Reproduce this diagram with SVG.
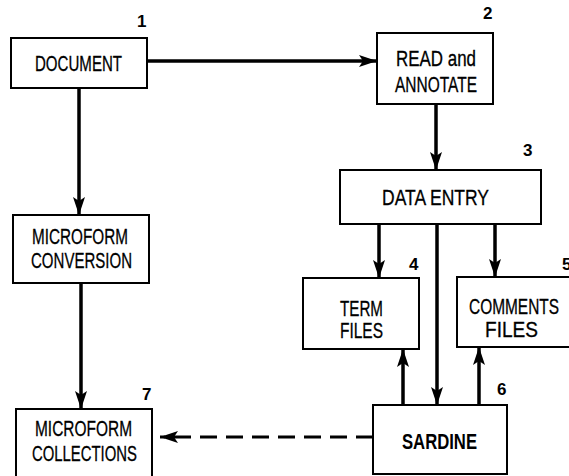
<svg xmlns="http://www.w3.org/2000/svg" width="569" height="476" viewBox="0 0 569 476">
<defs>
<marker id="ah" markerUnits="userSpaceOnUse" markerWidth="20" markerHeight="14" refX="18" refY="6" orient="auto">
<path d="M0,0 L18,6 L0,12 L4,6 z" fill="#000"/>
</marker>
<style>
.box{fill:#fff;stroke:#000;stroke-width:2}
.t{font-family:"Liberation Sans",Arial,sans-serif;font-size:21.5px;fill:#000;stroke:#000;stroke-width:0.3}
.b{font-family:"Liberation Sans",Arial,sans-serif;font-size:22px;font-weight:bold;fill:#000}
.n{font-family:"Liberation Sans",Arial,sans-serif;font-size:17px;font-weight:bold;fill:#000}
.c{fill:none;stroke:#000;stroke-width:3.5;marker-end:url(#ah)}
.d{fill:none;stroke:#000;stroke-width:3;stroke-dasharray:17 9;marker-end:url(#ah)}
</style>
</defs>
<rect width="569" height="476" fill="#fff"/>
<g id="connectors">
<path class="c" d="M147,61 H377"/>
<path class="c" d="M79,88 V215"/>
<path class="c" d="M81,283 V409"/>
<path class="c" d="M436,104 V170"/>
<path class="c" d="M379,224 V278"/>
<path class="c" d="M495,224 V277"/>
<path class="c" d="M437,224 V405"/>
<path class="c" d="M403,405 V349"/>
<path class="c" d="M479,405 V347"/>
<path class="d" d="M373,437 H160"/>
</g>
<g id="n1">
<rect class="box" x="11" y="38" width="136" height="50"/>
<text class="t" x="35" y="71" textLength="87" lengthAdjust="spacingAndGlyphs">DOCUMENT</text>
<text class="n" x="137" y="27">1</text>
</g>
<g id="n2">
<rect class="box" x="377" y="33" width="116" height="71"/>
<text class="t" x="396" y="66" textLength="80" lengthAdjust="spacingAndGlyphs">READ and</text>
<text class="t" x="395" y="92" textLength="82" lengthAdjust="spacingAndGlyphs">ANNOTATE</text>
<text class="n" x="483" y="19">2</text>
</g>
<g id="n3">
<rect class="box" x="340" y="170" width="201" height="54"/>
<text class="t" x="382" y="205" textLength="107" lengthAdjust="spacingAndGlyphs">DATA ENTRY</text>
<text class="n" x="523" y="156">3</text>
</g>
<g id="n4">
<rect class="box" x="303" y="278" width="116" height="71"/>
<text class="t" x="340" y="316" textLength="43" lengthAdjust="spacingAndGlyphs">TERM</text>
<text class="t" x="340" y="338" textLength="43" lengthAdjust="spacingAndGlyphs">FILES</text>
<text class="n" x="409" y="270">4</text>
</g>
<g id="n5">
<rect class="box" x="457" y="277" width="118" height="70"/>
<text class="t" x="469" y="314" textLength="90" lengthAdjust="spacingAndGlyphs">COMMENTS</text>
<text class="t" x="485" y="337" textLength="53" lengthAdjust="spacingAndGlyphs">FILES</text>
<text class="n" x="562" y="270">5</text>
</g>
<g id="n6">
<rect class="box" x="373" y="405" width="134" height="69"/>
<text class="b" x="402" y="449" textLength="75" lengthAdjust="spacingAndGlyphs">SARDINE</text>
<text class="n" x="497" y="395">6</text>
</g>
<g id="n7">
<rect class="box" x="16" y="409" width="136" height="75"/>
<text class="t" x="35" y="436" textLength="97" lengthAdjust="spacingAndGlyphs">MICROFORM</text>
<text class="t" x="32" y="461" textLength="105" lengthAdjust="spacingAndGlyphs">COLLECTIONS</text>
<text class="n" x="142" y="400">7</text>
</g>
<g id="n8">
<rect class="box" x="13" y="215" width="136" height="68"/>
<text class="t" x="32" y="244" textLength="96" lengthAdjust="spacingAndGlyphs">MICROFORM</text>
<text class="t" x="31" y="268" textLength="101" lengthAdjust="spacingAndGlyphs">CONVERSION</text>
</g>
</svg>
